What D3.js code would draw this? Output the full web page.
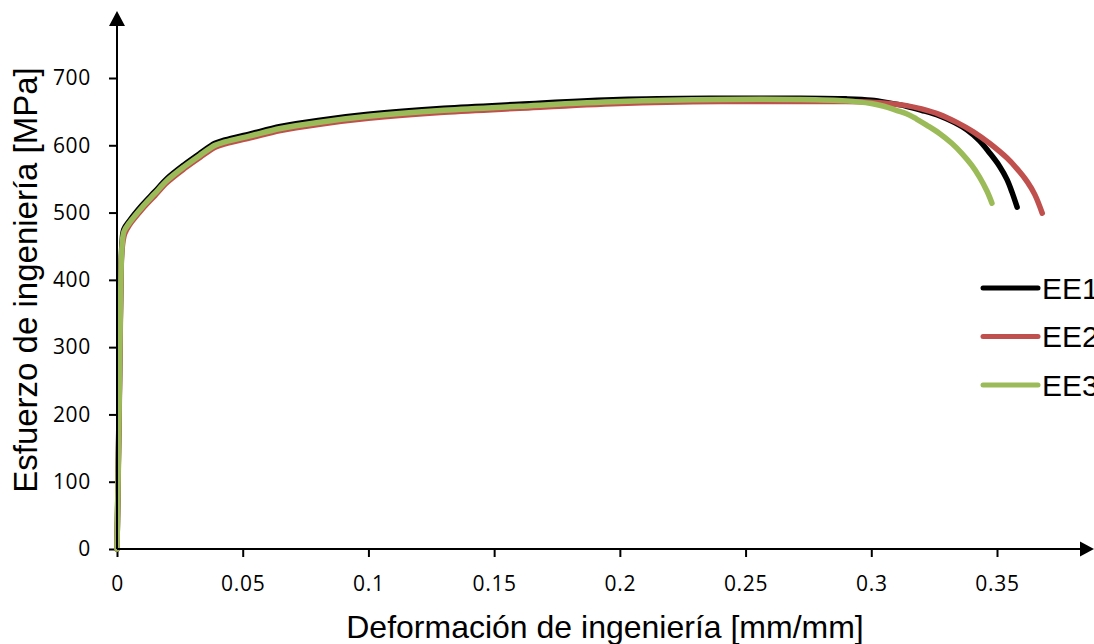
<!DOCTYPE html>
<html>
<head>
<meta charset="utf-8">
<script src="https://cdn.jsdelivr.net/npm/d3@7"></script>
<style>
  body { margin: 0; background: #fff; }
  svg { display: block; }
</style>
</head>
<body>
<div id="chart"></div>
<script>
// series data (strain mm/mm, stress MPa)
var ee1Strain = [0, 0.0005, 0.001, 0.0015, 0.002, 0.0027, 0.005, 0.01, 0.015, 0.02, 0.027, 0.033, 0.039, 0.043, 0.053, 0.065, 0.08, 0.1, 0.13, 0.16, 0.2, 0.24, 0.27, 0.29, 0.3, 0.307, 0.314, 0.32, 0.327, 0.333, 0.338, 0.343, 0.347, 0.351, 0.354, 0.356, 0.358];
var ee1Stress = [0, 125, 255, 395, 455, 475, 488, 511, 531, 551, 572, 588, 603, 608, 617, 628, 637, 646, 655, 661, 668, 670, 670, 669, 667, 663, 658, 652, 644, 634, 623, 607, 589, 569, 549, 530, 508];

var ee2Strain = [0, 0.0005, 0.001, 0.0015, 0.002, 0.003, 0.005, 0.01, 0.015, 0.02, 0.027, 0.033, 0.039, 0.043, 0.053, 0.065, 0.08, 0.1, 0.13, 0.16, 0.2, 0.24, 0.27, 0.29, 0.3, 0.307, 0.314, 0.32, 0.327, 0.334, 0.3406, 0.347, 0.354, 0.358, 0.362, 0.365, 0.368];
var ee2Stress = [0, 110, 240, 380, 445, 468, 482, 505, 525, 545, 566, 582, 597, 602, 611, 622, 631, 640, 649, 655, 662, 665, 665, 665, 664, 662, 659, 654, 646, 634, 620, 603, 581, 565, 546, 527, 499];

var ee3Strain = [0, 0.0005, 0.001, 0.0015, 0.002, 0.0028, 0.005, 0.01, 0.015, 0.02, 0.027, 0.033, 0.039, 0.043, 0.053, 0.065, 0.08, 0.1, 0.13, 0.16, 0.2, 0.24, 0.27, 0.29, 0.3, 0.305, 0.31, 0.314, 0.318, 0.322, 0.327, 0.332, 0.336, 0.34, 0.343, 0.346, 0.348];
var ee3Stress = [0, 120, 250, 390, 450, 472, 485, 508, 528, 548, 569, 585, 600, 605, 614, 625, 634, 643, 652, 658, 665, 668, 668, 666, 662, 658, 652, 647, 639, 630, 618, 603, 588, 570, 553, 532, 514];

var seriesNames = ["EE1", "EE2", "EE3"];
var seriesColors = ["#000000", "#C0504D", "#9BBB59"];

var xTicks = [0, 0.05, 0.1, 0.15, 0.2, 0.25, 0.3, 0.35];
var xTickLabels = ["0", "0.05", "0.1", "0.15", "0.2", "0.25", "0.3", "0.35"];
var yTicks = [0, 100, 200, 300, 400, 500, 600, 700];

var width = 1094, height = 644;

var svg = d3.select("#chart")
    .append("svg")
    .attr("width", width)
    .attr("height", height);

// scales
var x = d3.scaleLinear()
    .domain([0, 0.35])
    .range([117, 997]);
var y = d3.scaleLinear()
    .domain([0, 700])
    .range([549, 78]);

// X axis (ticks + labels only, the line is drawn with the arrow)
var xAxis = svg.append("g")
    .attr("transform", "translate(0," + y(0) + ")")
    .call(d3.axisBottom(x)
        .tickValues(xTicks)
        .tickFormat(function(d, i) { return xTickLabels[i]; })
        .tickSize(8)
        .tickSizeOuter(0)
        .tickPadding(19));
xAxis.select(".domain").remove();
xAxis.selectAll("line").attr("stroke", "#000").attr("stroke-width", 2);
xAxis.selectAll("text")
    .style("font-family", "'Open Sans', sans-serif")
    .style("font-size", "21px")
    .style("letter-spacing", "0.7px")
    .attr("fill", "#000");

// Y axis
var yAxis = svg.append("g")
    .attr("transform", "translate(" + x(0) + ",0)")
    .call(d3.axisLeft(y)
        .tickValues(yTicks)
        .tickSize(8)
        .tickSizeOuter(0)
        .tickPadding(18));
yAxis.select(".domain").remove();
yAxis.selectAll("line").attr("stroke", "#000").attr("stroke-width", 2);
yAxis.selectAll("text")
    .style("font-family", "'Open Sans', sans-serif")
    .style("font-size", "21px")
    .style("letter-spacing", "0.7px")
    .attr("fill", "#000");

// curves
var line = d3.line()
    .x(function(d) { return x(d[0]); })
    .y(function(d) { return y(d[1]); })
    .curve(d3.curveCatmullRom.alpha(0.5));

var allSeries = [
    d3.zip(ee1Strain, ee1Stress),
    d3.zip(ee2Strain, ee2Stress),
    d3.zip(ee3Strain, ee3Stress)
];

svg.append("g")
    .selectAll("path")
    .data(allSeries)
    .enter()
    .append("path")
    .attr("fill", "none")
    .attr("stroke", function(d, i) { return seriesColors[i]; })
    .attr("stroke-width", 5.5)
    .attr("stroke-linecap", "round")
    .attr("stroke-linejoin", "round")
    .attr("d", line);

// axis lines with arrow heads
svg.append("line")
    .attr("x1", x(0)).attr("y1", y(0))
    .attr("x2", x(0)).attr("y2", 26)
    .attr("stroke", "#000").attr("stroke-width", 2);
svg.append("path")
    .attr("d", "M" + (x(0) - 8) + ",26L" + x(0) + ",11L" + (x(0) + 8) + ",26Z")
    .attr("fill", "#000");

svg.append("line")
    .attr("x1", x(0)).attr("y1", y(0))
    .attr("x2", 1081).attr("y2", y(0))
    .attr("stroke", "#000").attr("stroke-width", 2);
svg.append("path")
    .attr("d", "M1080," + (y(0) - 7.5) + "L1094," + y(0) + "L1080," + (y(0) + 7.5) + "Z")
    .attr("fill", "#000");

// axis titles
svg.append("text")
    .attr("x", 605)
    .attr("y", 638)
    .attr("text-anchor", "middle")
    .style("font-family", "'Liberation Sans', Arial, sans-serif")
    .style("font-size", "32px")
    .text("Deformación de ingeniería [mm/mm]");

svg.append("text")
    .attr("transform", "translate(37,280) rotate(-90)")
    .attr("text-anchor", "middle")
    .style("font-family", "'Liberation Sans', Arial, sans-serif")
    .style("font-size", "33px")
    .text("Esfuerzo de ingeniería [MPa]");

// legend
var legend = svg.append("g")
    .selectAll("g")
    .data(seriesNames)
    .enter()
    .append("g")
    .attr("transform", function(d, i) { return "translate(983," + (288 + i * 48.5) + ")"; });
legend.append("line")
    .attr("x1", 0).attr("x2", 55)
    .attr("stroke", function(d, i) { return seriesColors[i]; })
    .attr("stroke-width", 5)
    .attr("stroke-linecap", "round");
legend.append("text")
    .attr("x", 59)
    .attr("dy", "0.36em")
    .style("font-family", "'Liberation Sans', Arial, sans-serif")
    .style("font-size", "30px")
    .text(function(d) { return d; });
</script>
</body>
</html>
